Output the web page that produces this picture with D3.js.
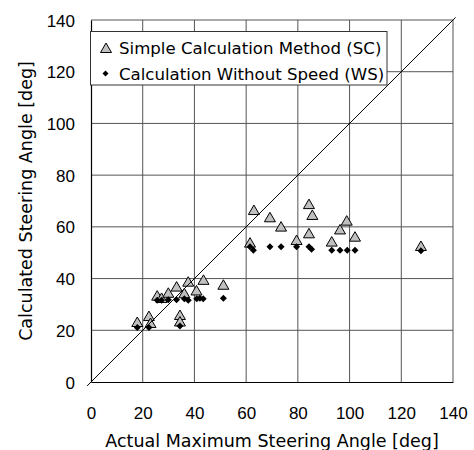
<!DOCTYPE html>
<html><head><meta charset="utf-8">
<script src="https://cdn.jsdelivr.net/npm/d3@7"></script>
<style>body{margin:0;background:#fff}</style>
</head><body>
<svg id="c" width="474" height="450"></svg>
<script>
const xTicks = [0,20,40,60,80,100,120,140];
const yTicks = [0,20,40,60,80,100,120,140];
const scActual = [17.9,22.4,23.0,25.6,27.3,29.9,33.1,36.1,37.6,40.8,43.5,51.2,34.4,34.4,61.5,63.0,69.2,73.5,79.5,84.3,85.6,84.3,93.1,96.3,98.9,102.1,127.6];
const scCalc   = [23.2,25.5,22.8,33.4,32.5,34.5,36.9,34.3,38.8,35.4,39.5,37.6,25.9,23.4,53.9,66.5,63.7,60.1,54.9,68.8,64.6,57.5,54.3,59.0,62.4,56.2,52.6];
const wsActual = [17.9,22.4,25.6,27.3,29.9,33.1,36.1,37.6,40.9,42.1,43.4,51.2,34.4,61.5,62.8,69.2,73.5,79.5,84.3,85.3,93.1,96.3,99.1,102.1,127.6];
const wsCalc   = [21.1,21.1,31.6,31.6,31.8,31.8,32.2,31.6,32.2,32.4,32.2,32.4,21.7,52.3,51.0,52.3,52.3,52.3,52.3,51.3,51.0,51.0,51.0,51.0,50.8];
const seriesNames = ["Simple Calculation Method (SC)","Calculation Without Speed (WS)"];

const svg = d3.select("#c");
const L=91, R=453, T=20, B=382;
const x = d3.scaleLinear().domain([0,140]).range([L,R]);
const y = d3.scaleLinear().domain([0,140]).range([B,T]);
const txtFont = "DejaVu Sans, sans-serif";
const numFont = "Liberation Sans, Arial, sans-serif";

// gridlines
svg.append("g").selectAll("line").data(xTicks.slice(1)).join("line")
  .attr("x1",d=>x(d)).attr("x2",d=>x(d)).attr("y1",T).attr("y2",B)
  .attr("stroke","#555").attr("stroke-width",1);
svg.append("g").selectAll("line").data(yTicks.slice(1)).join("line")
  .attr("y1",d=>y(d)).attr("y2",d=>y(d)).attr("x1",L).attr("x2",R)
  .attr("stroke","#555").attr("stroke-width",1);

// axes
const xa = svg.append("g").attr("transform",`translate(0,${B})`)
  .call(d3.axisBottom(x).tickValues(xTicks).tickSize(0).tickPadding(0));
xa.select(".domain").attr("stroke","#000").attr("stroke-width",1.2);
xa.selectAll("text").attr("font-family",numFont).attr("font-size",17).attr("fill","#000")
  .attr("y",37).attr("dy",0);
const ya = svg.append("g").attr("transform",`translate(${L},0)`)
  .call(d3.axisLeft(y).tickValues(yTicks).tickSize(0).tickPadding(16));
ya.select(".domain").attr("stroke","#000").attr("stroke-width",1.2);
ya.selectAll("text").attr("font-family",numFont).attr("font-size",17).attr("fill","#000").attr("dy","0.36em");

// titles
svg.append("text").attr("x",(L+R)/2).attr("y",447).attr("text-anchor","middle")
  .attr("font-family",txtFont).attr("font-size",17.5).text("Actual Maximum Steering Angle [deg]");
svg.append("text").attr("transform",`translate(31.5,${(T+B)/2}) rotate(-90)`).attr("text-anchor","middle")
  .attr("font-family",txtFont).attr("font-size",17.5).text("Calculated Steering Angle [deg]");

const tri = "M0,-5 L5.5,4.5 L-5.5,4.5 Z";
const dia = "M0,-3.5 L3.5,0 L0,3.5 L-3.5,0 Z";

// SC triangles
svg.append("g").selectAll("path").data(scActual.map((a,i)=>[a,scCalc[i]])).join("path")
  .attr("d",tri).attr("transform",d=>`translate(${x(d[0])},${y(d[1])})`)
  .attr("fill","#c0c0c0").attr("stroke","#000").attr("stroke-width",1);
// WS diamonds
svg.append("g").selectAll("path").data(wsActual.map((a,i)=>[a,wsCalc[i]])).join("path")
  .attr("d",dia).attr("transform",d=>`translate(${x(d[0])},${y(d[1])})`)
  .attr("fill","#000");

// diagonal y = x
svg.append("line").attr("x1",x(-1.5)).attr("y1",y(-1.5)).attr("x2",x(141)).attr("y2",y(141))
  .attr("stroke","#000").attr("stroke-width",1);

// legend
const lg = svg.append("g");
lg.append("rect").attr("x",90.5).attr("y",31.5).attr("width",296.5).attr("height",53.5)
  .attr("fill","#fff").attr("stroke","#333").attr("stroke-width",1);
lg.append("path").attr("d",tri).attr("transform","translate(106,48)")
  .attr("fill","#c0c0c0").attr("stroke","#000");
lg.append("path").attr("d","M0,-3 L3,0 L0,3 L-3,0 Z").attr("transform","translate(105.5,73.5)").attr("fill","#000");
lg.selectAll("text").data(seriesNames).join("text")
  .attr("x",119).attr("y",(d,i)=>i===0?54:80)
  .attr("font-family",txtFont).attr("font-size",16.6).text(d=>d);
</script>
</body></html>
